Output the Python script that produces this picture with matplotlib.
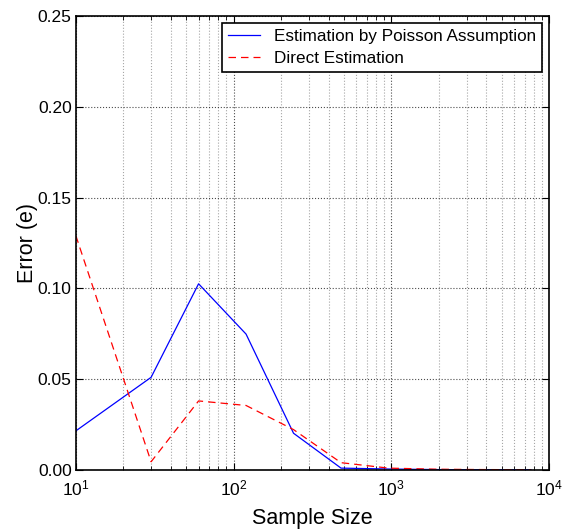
import numpy as np
import matplotlib.pyplot as plt
from matplotlib.ticker import LogLocator, NullFormatter

plt.rcParams['font.family'] = ['Liberation Sans', 'DejaVu Sans']
plt.rcParams['mathtext.fontset'] = 'custom'
plt.rcParams['mathtext.rm'] = 'Liberation Sans'
plt.rcParams['mathtext.it'] = 'Liberation Sans'

sample_size = [10, 30, 60, 120, 240, 480, 960, 1920, 3840, 7680]
poisson_err = [0.0215, 0.051, 0.1025, 0.0748, 0.0202, 0.001, 0.0005, 0.0002, 0.0001, 0.0001]
direct_err = [0.129, 0.0045, 0.038, 0.0355, 0.0222, 0.004, 0.001, 0.0004, 0.0002, 0.0001]

fig = plt.figure(figsize=(5.66, 5.31), dpi=100)
ax = fig.add_axes([0.134, 0.115, 0.836, 0.855])

ax.plot(sample_size, poisson_err, color='blue', lw=0.9, label='Estimation by Poisson Assumption')
ax.plot(sample_size, direct_err, color='red', lw=0.9, ls=(0, (6, 4)), label='Direct Estimation')

ax.set_xscale('log')
ax.set_xlim(10, 1e4)
ax.set_ylim(0, 0.25)
ax.set_yticks(np.arange(0, 0.26, 0.05))
ax.set_yticklabels(['%.2f' % v for v in np.arange(0, 0.26, 0.05)])
ax.xaxis.set_minor_locator(LogLocator(base=10, subs=np.arange(2, 10)))
ax.xaxis.set_minor_formatter(NullFormatter())

ax.grid(True, which='major', ls=':', color='black', lw=0.8, alpha=0.7)
ax.grid(True, which='minor', axis='x', ls=':', color='gray', lw=0.8, alpha=0.7)

ax.tick_params(which='both', direction='in', top=True, right=True, labelsize=12.5)
ax.tick_params(which='major', length=5)
ax.tick_params(which='minor', length=3)
ax.tick_params(axis='x', pad=6)
ax.tick_params(axis='y', pad=3)
for s in ax.spines.values():
    s.set_linewidth(1.2)

ax.set_xlabel('Sample Size', fontsize=15.5, labelpad=7)
ax.set_ylabel('Error (e)', fontsize=15.5, labelpad=0)

leg = ax.legend(loc='upper right', fontsize=12.3, fancybox=False,
                framealpha=1, edgecolor='black', handlelength=1.9, borderaxespad=0.4,
                borderpad=0.35, labelspacing=0.4, handletextpad=0.8)
leg.get_frame().set_linewidth(1.2)

fig.savefig('out.png', dpi=100)
